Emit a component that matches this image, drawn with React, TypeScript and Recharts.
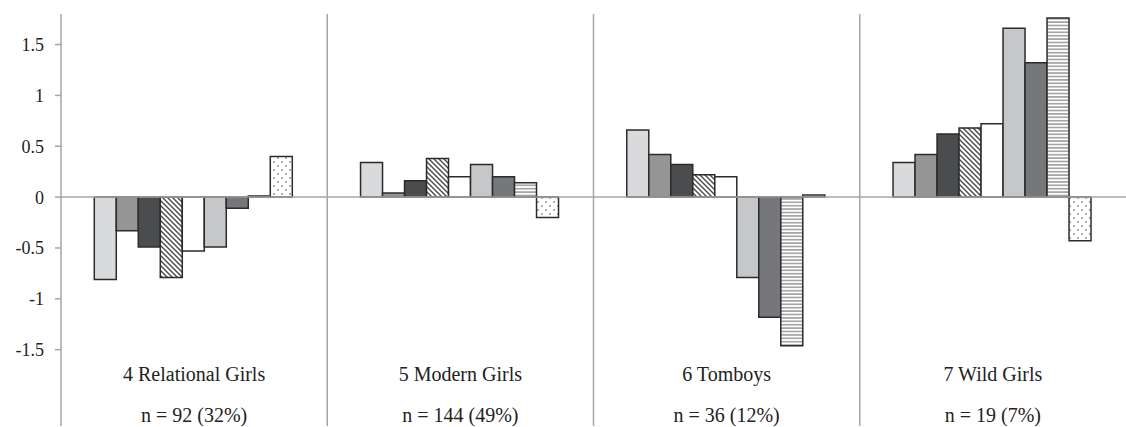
import React from 'react';
import { BarChart, Bar, XAxis, YAxis, ReferenceLine } from 'recharts';

const groups = ['4 Relational Girls', '5 Modern Girls', '6 Tomboys', '7 Wild Girls'];
const groupSizes = ['n = 92 (32%)', 'n = 144 (49%)', 'n = 36 (12%)', 'n = 19 (7%)'];

// one array per bar position inside each group
const s1 = [-0.81, 0.34, 0.66, 0.34];
const s2 = [-0.33, 0.04, 0.42, 0.42];
const s3 = [-0.49, 0.16, 0.32, 0.62];
const s4 = [-0.79, 0.38, 0.22, 0.68];
const s5 = [-0.53, 0.2, 0.2, 0.72];
const s6 = [-0.49, 0.32, -0.79, 1.66];
const s7 = [-0.11, 0.2, -1.18, 1.32];
const s8 = [0.01, 0.14, -1.46, 1.76];
const s9 = [0.4, -0.2, 0.02, -0.43];

const yTicks = [-1.5, -1, -0.5, 0, 0.5, 1, 1.5];

const series = [
    { key: 's1', values: s1, fill: '#d9dadc' },
    { key: 's2', values: s2, fill: '#959596' },
    { key: 's3', values: s3, fill: '#4b4c4e' },
    { key: 's4', values: s4, fill: 'url(#diag)' },
    { key: 's5', values: s5, fill: '#ffffff' },
    { key: 's6', values: s6, fill: '#c6c7c9' },
    { key: 's7', values: s7, fill: '#76777a' },
    { key: 's8', values: s8, fill: 'url(#hstripe)' },
    { key: 's9', values: s9, fill: 'url(#dots)' },
];

const data = groups.map((g, i) => {
    const row: Record<string, string | number> = { group: g };
    series.forEach((s) => {
        row[s.key] = s.values[i];
    });
    return row;
});

const FONT = '"Liberation Serif", "Times New Roman", serif';

function GroupTick(props: any) {
    const { x, y, payload, index } = props;
    const i = typeof index === 'number' ? index : groups.indexOf(payload.value);
    return (
        <g>
            <text x={x} y={y - 52} textAnchor="middle" dominantBaseline="central"
                style={{ fontFamily: FONT, fontSize: 20 }} fill="#222">
                {payload.value}
            </text>
            <text x={x} y={y - 11} textAnchor="middle" dominantBaseline="central"
                style={{ fontFamily: FONT, fontSize: 20 }} fill="#222">
                {groupSizes[i]}
            </text>
        </g>
    );
}

export default function App() {
    return (
        <div style={{ position: 'absolute', top: 0, left: 0, width: 1126, height: 427, background: '#fff' }}>
            <BarChart
                width={1126}
                height={427}
                data={data}
                margin={{ top: 14, right: 0, bottom: 0, left: 0 }}
                barCategoryGap="12.5%"
                barGap={0}
            >
                <defs>
                    <pattern id="diag" patternUnits="userSpaceOnUse" width="5" height="5">
                        <rect width="5" height="5" fill="#fff" />
                        <path d="M-1,-1 L6,6 M-1,4 L1,6 M4,-1 L6,1" stroke="#4a4a4a" strokeWidth="1.4" />
                    </pattern>
                    <pattern id="hstripe" patternUnits="userSpaceOnUse" width="6" height="3.4">
                        <rect width="6" height="3.4" fill="#fff" />
                        <line x1="0" y1="1.7" x2="6" y2="1.7" stroke="#9a9a9a" strokeWidth="1.5" />
                    </pattern>
                    <pattern id="dots" patternUnits="userSpaceOnUse" width="8" height="8">
                        <rect width="8" height="8" fill="#fff" />
                        <circle cx="2" cy="2" r="0.9" fill="#8a8a8a" />
                        <circle cx="6" cy="6" r="0.9" fill="#8a8a8a" />
                    </pattern>
                </defs>
                <XAxis
                    dataKey="group"
                    height={1}
                    axisLine={false}
                    tickLine={false}
                    tickSize={0}
                    tickMargin={0}
                    interval={0}
                    tick={<GroupTick />}
                />
                <YAxis
                    width={61}
                    domain={[-2.25, 1.8]}
                    ticks={yTicks}
                    allowDataOverflow
                    axisLine={{ stroke: '#a6a6a6', strokeWidth: 1.5 }}
                    tickLine={{ stroke: '#a6a6a6', strokeWidth: 1.5 }}
                    tickSize={6}
                    tickMargin={11}
                    tick={{ style: { fontFamily: FONT, fontSize: 18 }, fill: '#222' }}
                />
                <ReferenceLine y={0} stroke="#a6a6a6" strokeWidth={1.5} />
                {groups.slice(1).map((g) => (
                    <ReferenceLine key={g} x={g} position="start" stroke="#a6a6a6" strokeWidth={1.5} />
                ))}
                {series.map((s) => (
                    <Bar
                        key={s.key}
                        dataKey={s.key}
                        fill={s.fill}
                        stroke="#2b2b2b"
                        strokeWidth={1.5}
                        isAnimationActive={false}
                    />
                ))}
            </BarChart>
        </div>
    );
}
